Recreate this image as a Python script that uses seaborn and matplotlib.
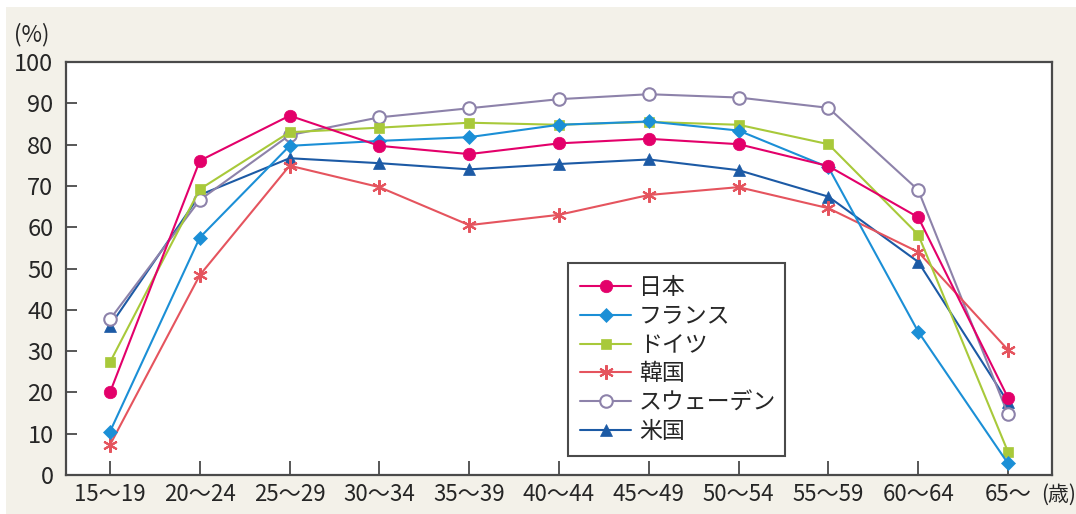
import matplotlib
matplotlib.use("Agg")
import matplotlib.pyplot as plt
from matplotlib.patches import Rectangle
import seaborn as sns
import pandas as pd

ages = ["15～19", "20～24", "25～29", "30～34", "35～39", "40～44",
        "45～49", "50～54", "55～59", "60～64", "65～"]

japan  = [20.0, 76.1, 87.0, 79.7, 77.7, 80.3, 81.4, 80.1, 74.8, 62.4, 18.7]
france = [10.5, 57.5, 79.7, 80.9, 81.8, 84.8, 85.6, 83.4, 74.5, 34.7, 2.8]
germany = [27.3, 69.2, 83.0, 84.1, 85.3, 84.8, 85.5, 84.8, 80.1, 58.2, 5.6]
korea  = [7.3, 48.4, 74.9, 69.7, 60.5, 63.0, 67.8, 69.7, 64.6, 54.0, 30.3]
sweden = [37.7, 66.6, 82.3, 86.6, 88.8, 91.0, 92.2, 91.4, 88.9, 69.0, 14.7]
usa    = [36.1, 67.8, 76.7, 75.5, 74.0, 75.3, 76.4, 73.8, 67.4, 51.6, 17.6]

series_names = ["日本", "フランス", "ドイツ", "韓国", "スウェーデン", "米国"]
series_values = [japan, france, germany, korea, sweden, usa]

colors = ["#e3006a", "#1b8fd6", "#a8c93a", "#e5545e", "#8d82aa", "#1c5aa5"]
markers = ["o", "D", "s", (6, 2, 0), "o", "^"]
msizes = [9, 7, 7.5, 10.5, 9, 8.5]
faces = ["#e3006a", "#1b8fd6", "#a8c93a", "#e5545e", "white", "#1c5aa5"]

sns.set_theme(style="white")
plt.rcParams["font.family"] = ["Noto Sans CJK JP", "DejaVu Sans"]

W, H = 1076, 514
fig = plt.figure(figsize=(W / 100, H / 100), dpi=100)
fig.patch.set_facecolor("white")
bg = Rectangle((6 / W, 0), 1 - 6 / W, 1 - 7 / H,
               transform=fig.transFigure, facecolor="#f3f1e9",
               edgecolor="none", zorder=-10)
fig.add_artist(bg)

ax = fig.add_axes([66 / W, (H - 475) / H, (1052 - 66) / W, (475 - 62) / H])
ax.set_facecolor("white")
ax.set_zorder(1)

n = len(series_names)
for i, (name, vals) in enumerate(zip(series_names, series_values)):
    df = pd.DataFrame({"age": ages, "value": vals})
    sns.lineplot(data=df, x="age", y="value", ax=ax, color=colors[i],
                 marker=markers[i], markersize=msizes[i],
                 markerfacecolor=faces[i], markeredgecolor=colors[i],
                 markeredgewidth=1.5 if i in (3, 4) else 0.5,
                 linewidth=1.5, label=name, zorder=10 + (n - i), sort=False)

ax.set_xlim(-0.49, 10.49)
ax.set_ylim(0, 100)
ax.set_yticks(range(0, 101, 10))
ax.set_xticks(range(len(ages)))
ax.set_xticklabels(ages)
ax.set_xlabel("")
ax.set_ylabel("")

for s in ax.spines.values():
    s.set_color("#4a4a4a")
    s.set_linewidth(1.6)

ax.tick_params(axis="x", direction="in", length=10, width=1.3, color="#4a4a4a",
               labelsize=16, labelcolor="#262626", pad=6, bottom=True)
ax.tick_params(axis="y", direction="in", length=8, width=1.3, color="#4a4a4a",
               labelsize=17, labelcolor="#262626", pad=9, left=True)

fig.text(14 / W, 1 - 35 / H, "(%)", fontsize=16, color="#262626",
         ha="left", va="center", zorder=5)
fig.text(1041 / W, 1 - 495 / H, "(歳)", fontsize=15, color="#262626",
         ha="left", va="center", zorder=5)

leg = ax.legend(loc="lower left", bbox_to_anchor=(0.509, 0.046, 0.22, 0.489),
                mode="expand", fontsize=16.5, frameon=True, fancybox=False,
                framealpha=1, edgecolor="#4a4a4a", handlelength=2.2,
                handletextpad=0.35, labelspacing=0.26, borderpad=0.55,
                borderaxespad=0)
leg.get_frame().set_linewidth(1.5)
leg.set_zorder(30)

fig.savefig("out.png", dpi=100, facecolor=fig.get_facecolor())
